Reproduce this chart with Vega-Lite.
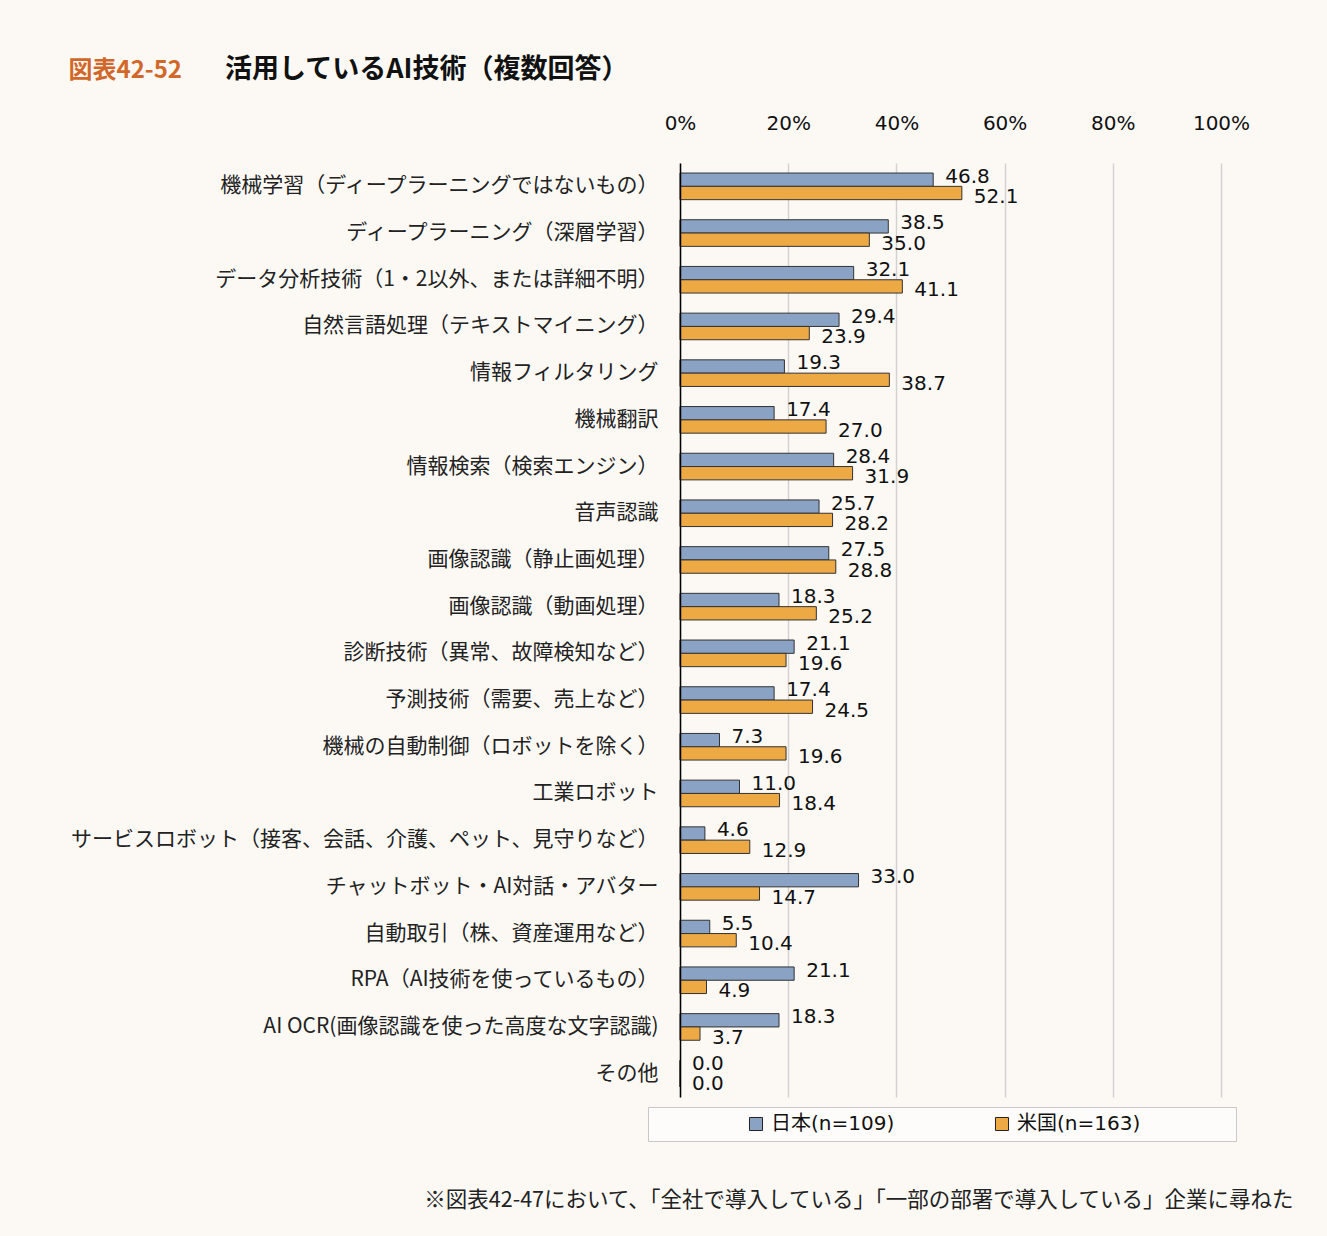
{
  "$schema": "https://vega.github.io/schema/vega-lite/v6.json",
  "width": 541,
  "height": 934,
  "autosize": {"type": "none"},
  "padding": {"left": 680, "top": 163, "right": 106, "bottom": 139},
  "background": "#fcf9f5",
  "config": {"view": {"stroke": null}},
  "title": {
    "text": "活用しているAI技術（複数回答）",
    "anchor": "start",
    "frame": "group",
    "dx": -455,
    "dy": 30,
    "font": "Noto Sans CJK JP",
    "fontSize": 27,
    "fontWeight": "bold",
    "color": "#111111"
  },
  "data": {
    "values": [
      {"item": "機械学習（ディープラーニングではないもの）", "country": "日本(n=109)", "value": 46.8},
      {"item": "機械学習（ディープラーニングではないもの）", "country": "米国(n=163)", "value": 52.1},
      {"item": "ディープラーニング（深層学習）", "country": "日本(n=109)", "value": 38.5},
      {"item": "ディープラーニング（深層学習）", "country": "米国(n=163)", "value": 35.0},
      {"item": "データ分析技術（1・2以外、または詳細不明）", "country": "日本(n=109)", "value": 32.1},
      {"item": "データ分析技術（1・2以外、または詳細不明）", "country": "米国(n=163)", "value": 41.1},
      {"item": "自然言語処理（テキストマイニング）", "country": "日本(n=109)", "value": 29.4},
      {"item": "自然言語処理（テキストマイニング）", "country": "米国(n=163)", "value": 23.9},
      {"item": "情報フィルタリング", "country": "日本(n=109)", "value": 19.3},
      {"item": "情報フィルタリング", "country": "米国(n=163)", "value": 38.7},
      {"item": "機械翻訳", "country": "日本(n=109)", "value": 17.4},
      {"item": "機械翻訳", "country": "米国(n=163)", "value": 27.0},
      {"item": "情報検索（検索エンジン）", "country": "日本(n=109)", "value": 28.4},
      {"item": "情報検索（検索エンジン）", "country": "米国(n=163)", "value": 31.9},
      {"item": "音声認識", "country": "日本(n=109)", "value": 25.7},
      {"item": "音声認識", "country": "米国(n=163)", "value": 28.2},
      {"item": "画像認識（静止画処理）", "country": "日本(n=109)", "value": 27.5},
      {"item": "画像認識（静止画処理）", "country": "米国(n=163)", "value": 28.8},
      {"item": "画像認識（動画処理）", "country": "日本(n=109)", "value": 18.3},
      {"item": "画像認識（動画処理）", "country": "米国(n=163)", "value": 25.2},
      {"item": "診断技術（異常、故障検知など）", "country": "日本(n=109)", "value": 21.1},
      {"item": "診断技術（異常、故障検知など）", "country": "米国(n=163)", "value": 19.6},
      {"item": "予測技術（需要、売上など）", "country": "日本(n=109)", "value": 17.4},
      {"item": "予測技術（需要、売上など）", "country": "米国(n=163)", "value": 24.5},
      {"item": "機械の自動制御（ロボットを除く）", "country": "日本(n=109)", "value": 7.3},
      {"item": "機械の自動制御（ロボットを除く）", "country": "米国(n=163)", "value": 19.6},
      {"item": "工業ロボット", "country": "日本(n=109)", "value": 11.0},
      {"item": "工業ロボット", "country": "米国(n=163)", "value": 18.4},
      {"item": "サービスロボット（接客、会話、介護、ペット、見守りなど）", "country": "日本(n=109)", "value": 4.6},
      {"item": "サービスロボット（接客、会話、介護、ペット、見守りなど）", "country": "米国(n=163)", "value": 12.9},
      {"item": "チャットボット・AI対話・アバター", "country": "日本(n=109)", "value": 33.0},
      {"item": "チャットボット・AI対話・アバター", "country": "米国(n=163)", "value": 14.7},
      {"item": "自動取引（株、資産運用など）", "country": "日本(n=109)", "value": 5.5},
      {"item": "自動取引（株、資産運用など）", "country": "米国(n=163)", "value": 10.4},
      {"item": "RPA（AI技術を使っているもの）", "country": "日本(n=109)", "value": 21.1},
      {"item": "RPA（AI技術を使っているもの）", "country": "米国(n=163)", "value": 4.9},
      {"item": "AI OCR(画像認識を使った高度な文字認識)", "country": "日本(n=109)", "value": 18.3},
      {"item": "AI OCR(画像認識を使った高度な文字認識)", "country": "米国(n=163)", "value": 3.7},
      {"item": "その他", "country": "日本(n=109)", "value": 0.0},
      {"item": "その他", "country": "米国(n=163)", "value": 0.0}
    ]
  },
  "encoding": {
    "y": {
      "field": "item",
      "type": "nominal",
      "sort": null,
      "scale": {"paddingInner": 0.43, "paddingOuter": 0.215},
      "axis": {
        "title": "図表42-52",
        "titleAngle": 0,
        "titleX": -612,
        "titleY": -93,
        "titleAlign": "left",
        "titleBaseline": "middle",
        "titleColor": "#d2672a",
        "titleFont": "Noto Sans CJK JP",
        "titleFontSize": 24,
        "titleFontWeight": "bold",
        "domainColor": "#000000",
        "domainWidth": 1.5,
        "ticks": false,
        "grid": false,
        "labelPadding": 22,
        "labelFont": "Noto Sans CJK JP",
        "labelFontSize": 21,
        "labelColor": "#222222",
        "labelLimit": 700,
        "zindex": 1
      }
    },
    "yOffset": {
      "field": "country",
      "type": "nominal",
      "sort": ["日本(n=109)", "米国(n=163)"],
      "scale": {"paddingInner": 0, "paddingOuter": 0}
    },
    "x": {
      "field": "value",
      "type": "quantitative",
      "scale": {"domain": [0, 100]},
      "axis": {
        "orient": "top",
        "values": [0, 20, 40, 60, 80, 100],
        "labelExpr": "datum.value + '%'",
        "labelFlush": false,
        "labelOverlap": false,
        "domain": false,
        "ticks": false,
        "grid": true,
        "gridColor": "#d2d2d2",
        "gridWidth": 1.5,
        "labelPadding": 30,
        "labelFont": "DejaVu Sans",
        "labelFontSize": 20,
        "labelColor": "#111111",
        "title": "※図表42-47において、「全社で導入している」「一部の部署で導入している」企業に尋ねた",
        "titleX": 613,
        "titleY": 1037,
        "titleAlign": "right",
        "titleBaseline": "middle",
        "titleFont": "Noto Sans CJK JP",
        "titleFontSize": 21.5,
        "titleFontWeight": "normal",
        "titleColor": "#222222"
      }
    }
  },
  "layer": [
    {
      "mark": {"type": "bar", "stroke": "#333333", "strokeWidth": 1},
      "encoding": {
        "color": {
          "field": "country",
          "type": "nominal",
          "scale": {"domain": ["日本(n=109)", "米国(n=163)"], "range": ["#8aa2c4", "#eda944"]},
          "legend": {
            "orient": "none",
            "legendX": -32,
            "legendY": 944,
            "direction": "horizontal",
            "title": " ",
            "titleOrient": "right",
            "titlePadding": 89,
            "padding": 7,
            "fillColor": "#fdfcfa",
            "strokeColor": "#c8c8c8",
            "symbolType": "square",
            "symbolSize": 170,
            "symbolStrokeColor": "#222222",
            "symbolStrokeWidth": 1,
            "symbolOffset": 91,
            "labelOffset": 5,
            "columnPadding": 6,
            "labelFont": "DejaVu Sans, Noto Sans CJK JP",
            "labelFontSize": 20,
            "labelColor": "#111111",
            "labelLimit": 300
          }
        }
      }
    },
    {
      "transform": [{"filter": "datum.country === '日本(n=109)'"}],
      "mark": {"type": "text", "align": "left", "baseline": "middle", "dx": 12, "dy": -3, "font": "DejaVu Sans", "fontSize": 20, "color": "#111111"},
      "encoding": {"text": {"field": "value", "type": "quantitative", "format": ".1f"}}
    },
    {
      "transform": [{"filter": "datum.country === '米国(n=163)'"}],
      "mark": {"type": "text", "align": "left", "baseline": "middle", "dx": 12, "dy": 4, "font": "DejaVu Sans", "fontSize": 20, "color": "#111111"},
      "encoding": {"text": {"field": "value", "type": "quantitative", "format": ".1f"}}
    }
  ]
}
